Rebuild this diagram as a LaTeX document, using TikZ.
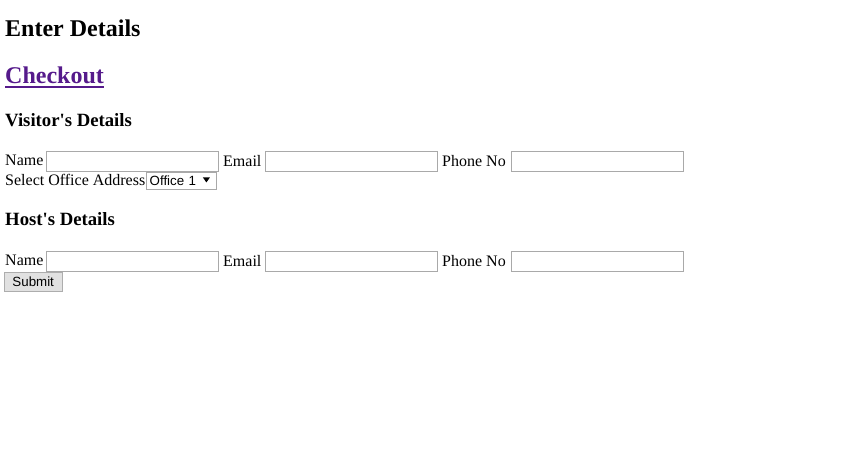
\documentclass[tikz,border=0pt]{standalone}
\usepackage{fontspec}
\setmainfont{Liberation Serif}[Ligatures=TeXOff]
\setsansfont{Liberation Sans}
\usetikzlibrary{positioning, calc}
\definecolor{fieldgray}{RGB}{169,169,169}
\definecolor{btnfill}{RGB}{225,225,225}
\definecolor{btnline}{RGB}{173,173,173}
\definecolor{visited}{RGB}{85,26,139}

\begin{document}
\begin{tikzpicture}[x=1pt, y=-1pt, node distance=2pt,
  every node/.style={inner sep=0pt, font=\fontsize{16}{19}\selectfont},
  headtwo/.style={anchor=base west, font=\fontsize{24}{28}\selectfont\bfseries},
  headthree/.style={anchor=base west, font=\fontsize{18.72}{22}\selectfont\bfseries},
  field/.style={draw=fieldgray, fill=white, minimum width=172pt, minimum height=20pt},
  dropdown/.style={draw=fieldgray, fill=white, font=\sffamily\fontsize{13.33}{16}\selectfont, text width=62pt, align=left, inner xsep=4pt, minimum height=17pt},
  button/.style={draw=btnline, fill=btnfill, font=\sffamily\fontsize{13.33}{16}\selectfont, minimum width=58pt, minimum height=19pt}]
\useasboundingbox (0,0) rectangle (855,457);
\fill[white] (0,0) rectangle (855,457);
% Headings
\node[headtwo] (Enter) at (5,37) {Enter Details};
\node[headtwo, text=visited] (Checkout) at (5,84) {Checkout};
\draw[visited, line width=1.5pt] ([yshift=-3pt]Checkout.base west) -- ([yshift=-3pt]Checkout.base east);
\node[headthree] (Visitor) at (5,127) {Visitor's Details};
% Visitor fields
\node[anchor=base west] (VName) at (5,166) {Name};
\node[field, right=of VName] (VNameBox) {};
\node[right=5pt of VNameBox] (VEmail) {Email};
\node[field, right=3pt of VEmail] (VEmailBox) {};
\node[right=5pt of VEmailBox] (VPhone) {Phone No};
\node[field, right=5pt of VPhone] (VPhoneBox) {};
% Office
\node[anchor=base west] (OfficeLbl) at (5,186) {Select Office Address};
\node[dropdown, right=0pt of OfficeLbl] (Office) {Office 1};
\fill ($(Office.east)+(-13,-3)$) -- ++(7,0) -- ++(-3.5,5) -- cycle;
% Host
\node[headthree] (Host) at (5,226) {Host's Details};
\node[anchor=base west] (HName) at (5,266) {Name};
\node[field, right=of HName] (HNameBox) {};
\node[right=5pt of HNameBox] (HEmail) {Email};
\node[field, right=3pt of HEmail] (HEmailBox) {};
\node[right=5pt of HEmailBox] (HPhone) {Phone No};
\node[field, right=5pt of HPhone] (HPhoneBox) {};
% Button
\node[button, anchor=north west] (Submit) at (4,272.5) {Submit};
\end{tikzpicture}
\end{document}
